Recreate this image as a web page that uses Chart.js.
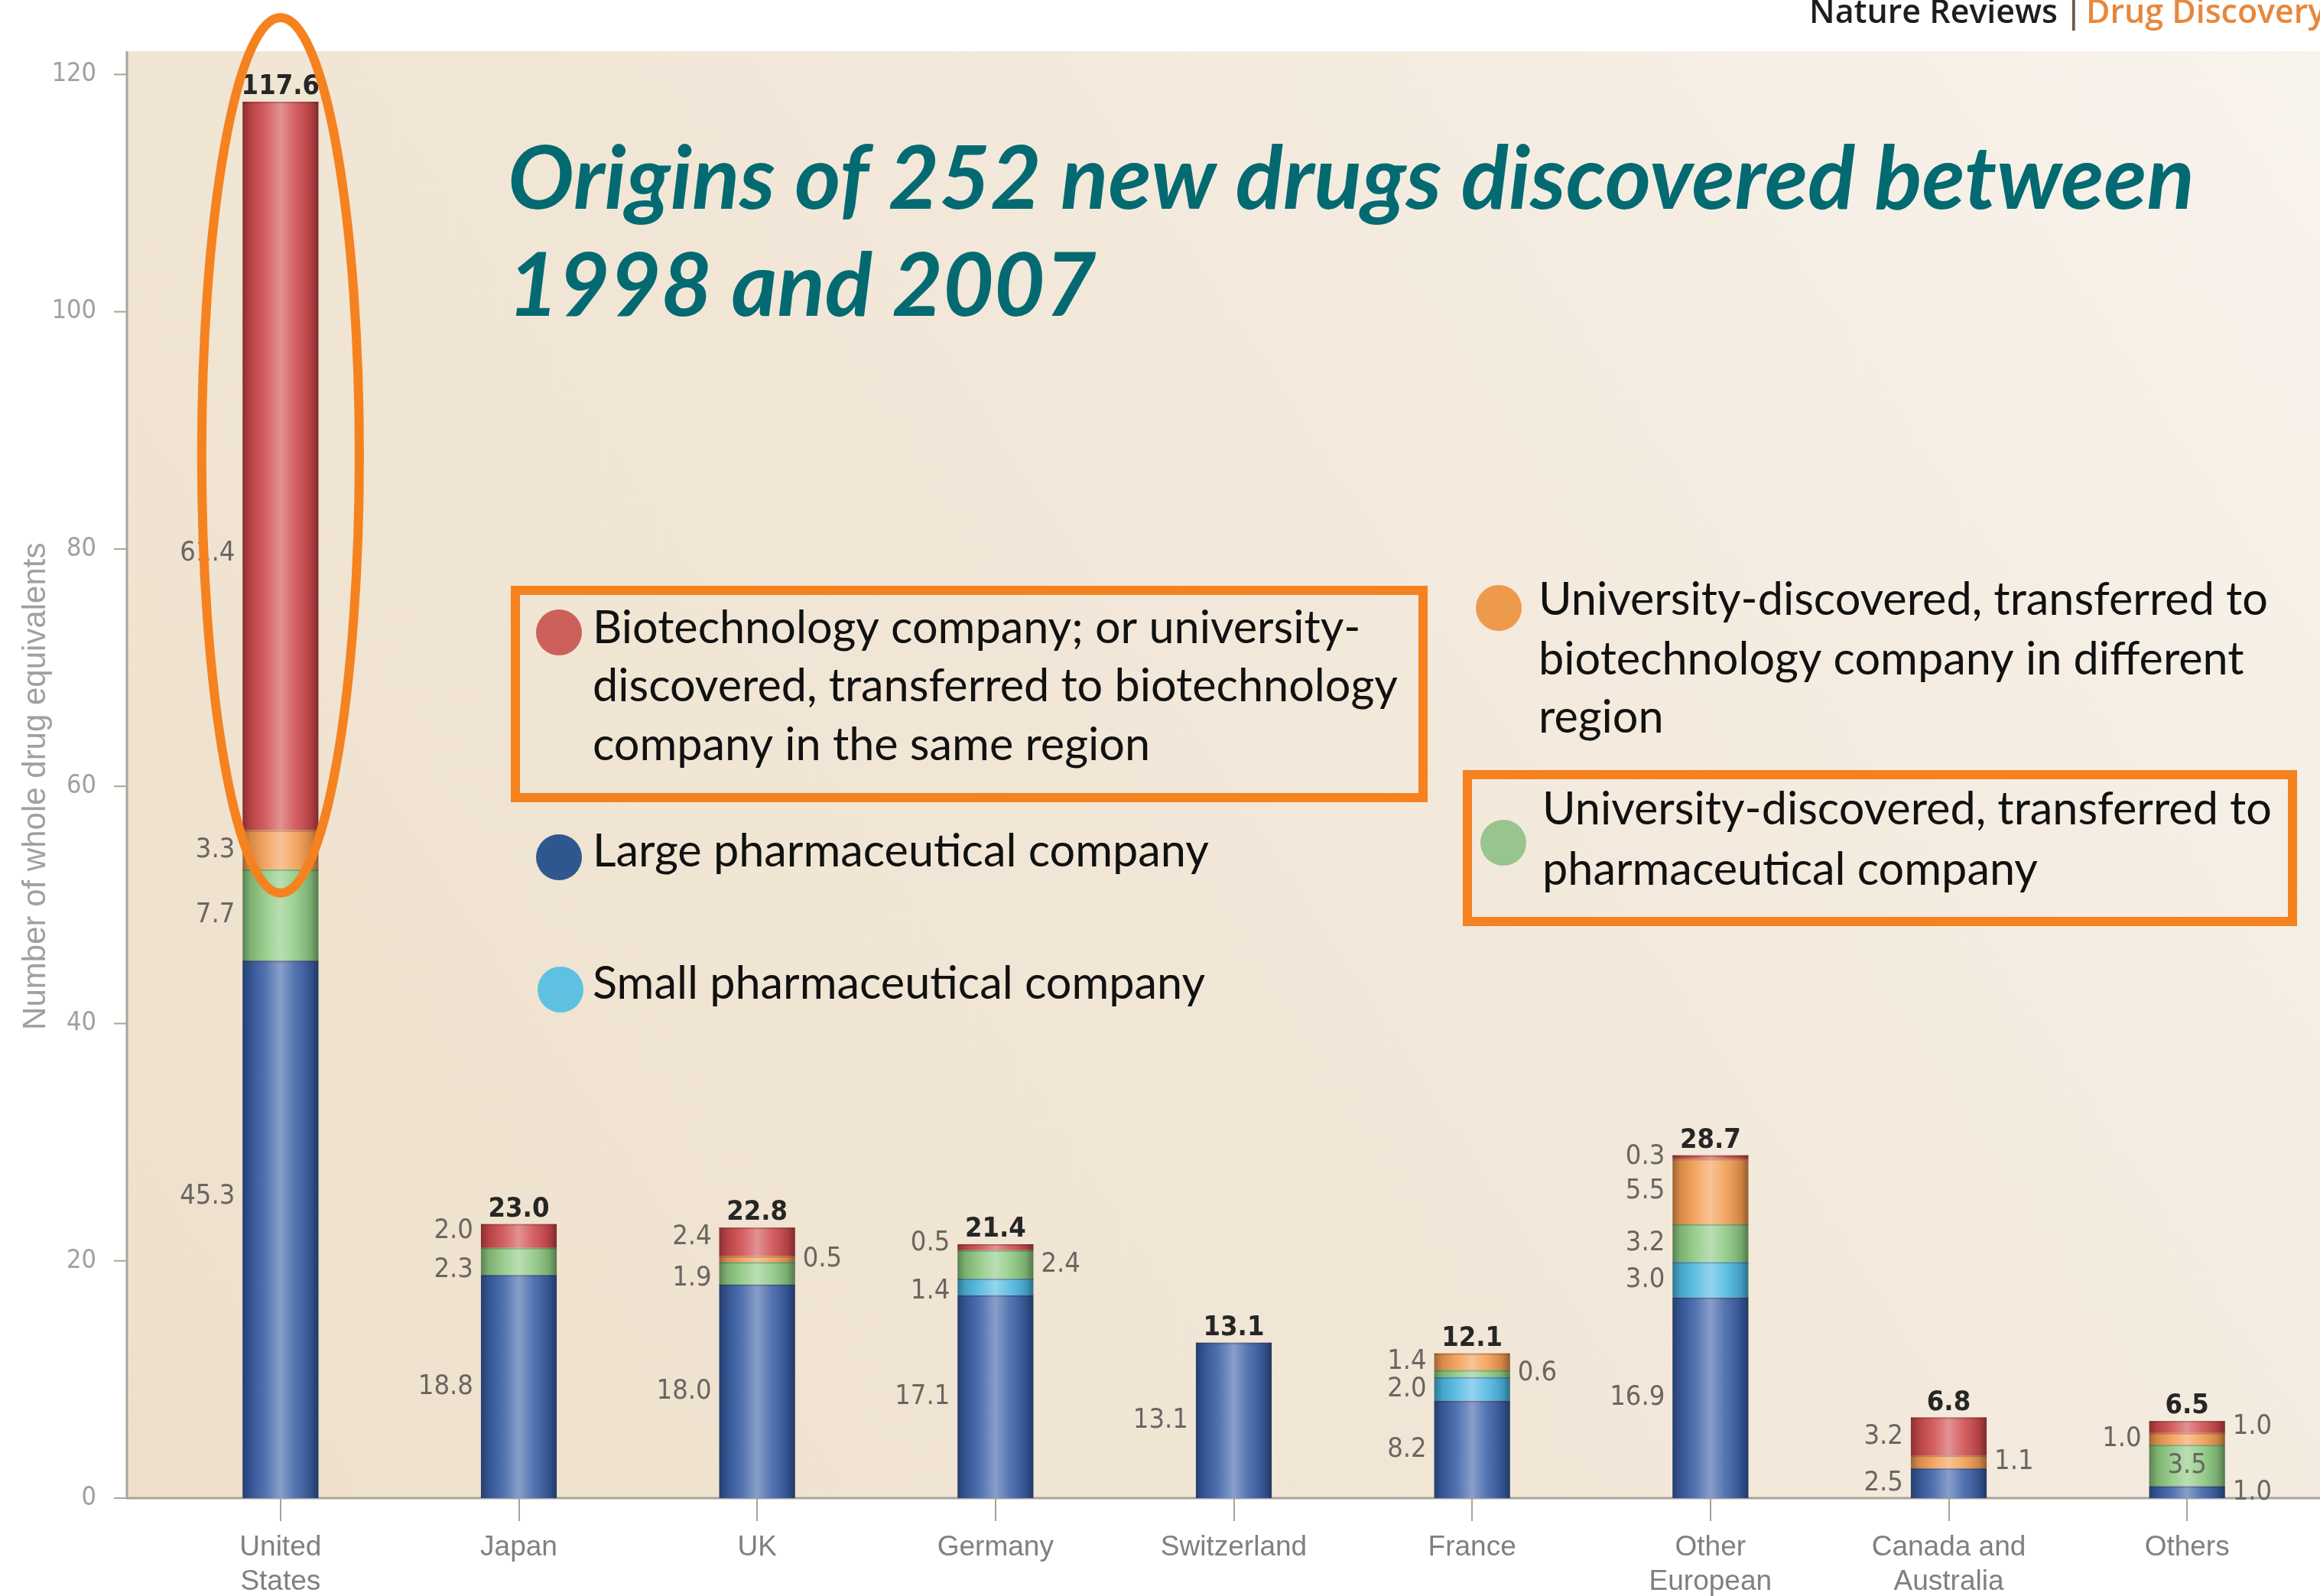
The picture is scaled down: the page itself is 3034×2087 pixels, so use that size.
<!DOCTYPE html>
<html>
<head>
<meta charset="utf-8">
<script src="https://cdn.jsdelivr.net/npm/chart.js@4.4.1/dist/chart.umd.min.js"></script>
<style>
    html, body { margin: 0; padding: 0; background: #ffffff; }
    canvas { display: block; }
</style>
</head>
<body>
<canvas id="chart" width="3034" height="2087"></canvas>
<script>
// categories
var countries = [['United', 'States'], 'Japan', 'UK', 'Germany', 'Switzerland', 'France', ['Other', 'European'], ['Canada and', 'Australia'], 'Others'];

// whole drug equivalents, stacked from the bottom up
var largePharma       = [45.3, 18.8, 18.0, 17.1, 13.1, 8.2, 16.9, 2.5, 1.0];
var smallPharma       = [0, 0, 0, 1.4, 0, 2.0, 3.0, 0, 0];
var uniToPharma       = [7.7, 2.3, 1.9, 2.4, 0, 0.6, 3.2, 0, 3.5];
var uniToBiotechOther = [3.3, 0, 0.5, 0, 0, 1.4, 5.5, 1.1, 1.0];
var biotechSameRegion = [61.4, 2.0, 2.4, 0.5, 0, 0, 0.3, 3.2, 1.0];
var totals            = [117.6, 23.0, 22.8, 21.4, 13.1, 12.1, 28.7, 6.8, 6.5];

var yTicks = [0, 20, 40, 60, 80, 100, 120];

var seriesNames = [
    'Large pharmaceutical company',
    'Small pharmaceutical company',
    'University-discovered, transferred to pharmaceutical company',
    'University-discovered, transferred to biotechnology company in different region',
    'Biotechnology company; or university-discovered, transferred to biotechnology company in the same region'
];

var barColors = ['#3a5fa6', '#4db7e2', '#8cc880', '#f29b50', '#cf4a4d'];
var dotColors = ['#2f578f', '#5ec1e1', '#98c58d', '#ee9a4c', '#cd605b'];

var narrowFont = '"Liberation Sans Narrow", "DejaVu Sans Condensed", "Liberation Sans", sans-serif';
var AXIS_X = 166;
var PLOT_TOP = 67;

// which side of the bar each segment value is written on (L, R, C)
var labelSide = [
    ['L', '', 'L', 'L', 'L'],
    ['L', '', 'L', '', 'L'],
    ['L', '', 'L', 'R', 'L'],
    ['L', 'L', 'R', '', 'L'],
    ['L', '', '', '', ''],
    ['L', 'L', 'R', 'L', ''],
    ['L', 'L', 'L', 'L', 'L'],
    ['L', '', '', 'R', 'L'],
    ['R', '', 'C', 'L', 'R']
];
// small vertical shifts (in axis units) where labels would crowd
var labelNudge = {
    '0,0': 2.8, '0,4': -7.4,
    '1,2': -0.7, '1,4': 0.45,
    '2,2': -0.45, '2,4': 0.4,
    '3,1': -0.4, '3,4': 0.35
};

var legendLayout = [
    { ds: 4, dot: [731, 827], x: 775, y: [841, 917, 994],
      lines: ['Biotechnology company; or university-', 'discovered, transferred to biotechnology', 'company in the same region'] },
    { ds: 0, dot: [731, 1121], x: 775, y: [1133], lines: ['Large pharmaceutical company'] },
    { ds: 1, dot: [733, 1294], x: 775, y: [1306], lines: ['Small pharmaceutical company'] },
    { ds: 3, dot: [1960, 795], x: 2012, y: [804, 882, 958],
      lines: ['University-discovered, transferred to', 'biotechnology company in different', 'region'] },
    { ds: 2, dot: [1966, 1102], x: 2017, y: [1078, 1157],
      lines: ['University-discovered, transferred to', 'pharmaceutical company'] }
];
var highlightBoxes = [[674, 772, 1861, 1043], [1919, 1013, 2998, 1205]];

function fitSize(ctx, text, width, prefix, family)
{
    ctx.font = prefix + ' 100px ' + family;
    return 100 * width / ctx.measureText(text).width;
}

var decor = {
    id: 'decor',

    beforeDraw: function (chart)
    {
        var ctx = chart.ctx, a = chart.chartArea;
        ctx.save();
        ctx.fillStyle = '#ffffff';
        ctx.fillRect(0, 0, chart.width, chart.height);
        var g = ctx.createLinearGradient(AXIS_X, a.bottom, chart.width, PLOT_TOP);
        g.addColorStop(0, '#eee0cb');
        g.addColorStop(0.5, '#f2e7d8');
        g.addColorStop(1, '#f8f3ec');
        ctx.fillStyle = g;
        ctx.fillRect(AXIS_X, PLOT_TOP, chart.width - AXIS_X, a.bottom - PLOT_TOP);
        ctx.restore();
    },

    beforeDatasetsDraw: function (chart)
    {
        var ctx = chart.ctx, a = chart.chartArea, y = chart.scales.y;
        ctx.save();
        ctx.strokeStyle = '#aaa49b';
        ctx.lineWidth = 3;
        ctx.beginPath();
        ctx.moveTo(AXIS_X, PLOT_TOP);
        ctx.lineTo(AXIS_X, a.bottom);
        ctx.lineTo(chart.width, a.bottom);
        ctx.stroke();
        ctx.lineWidth = 2;
        yTicks.forEach(function (v)
        {
            var py = y.getPixelForValue(v);
            ctx.beginPath();
            ctx.moveTo(AXIS_X - 17, py);
            ctx.lineTo(AXIS_X, py);
            ctx.stroke();
        });
        ctx.restore();
    },

    afterDatasetsDraw: function (chart)
    {
        var ctx = chart.ctx, yScale = chart.scales.y;
        ctx.save();

        // cylinder shading on every segment
        chart.data.datasets.forEach(function (ds, i)
        {
            chart.getDatasetMeta(i).data.forEach(function (el, j)
            {
                if (!ds.data[j]) return;
                var p = el.getProps(['x', 'y', 'base', 'width'], true);
                var l = p.x - p.width / 2;
                var g = ctx.createLinearGradient(l, 0, l + p.width, 0);
                g.addColorStop(0, 'rgba(0,0,0,0.35)');
                g.addColorStop(0.1, 'rgba(0,0,0,0.12)');
                g.addColorStop(0.3, 'rgba(255,255,255,0.12)');
                g.addColorStop(0.5, 'rgba(255,255,255,0.4)');
                g.addColorStop(0.7, 'rgba(255,255,255,0.12)');
                g.addColorStop(0.9, 'rgba(0,0,0,0.15)');
                g.addColorStop(1, 'rgba(0,0,0,0.4)');
                ctx.fillStyle = g;
                ctx.fillRect(l, p.y, p.width, p.base - p.y);
                ctx.fillStyle = 'rgba(60,30,20,0.25)';
                ctx.fillRect(l, p.y, p.width, 2);
            });
        });

        // segment values
        ctx.font = '36px ' + narrowFont;
        ctx.fillStyle = '#6a6662';
        ctx.textBaseline = 'middle';
        chart.data.datasets.forEach(function (ds, i)
        {
            chart.getDatasetMeta(i).data.forEach(function (el, j)
            {
                var side = labelSide[j][i];
                if (!ds.data[j] || !side) return;
                var p = el.getProps(['x', 'y', 'base', 'width'], true);
                var ym = (p.y + p.base) / 2;
                var nudge = labelNudge[j + ',' + i];
                if (nudge) ym = yScale.getPixelForValue(yScale.getValueForPixel(ym) + nudge);
                var txt = ds.data[j].toFixed(1);
                if (side === 'L') { ctx.textAlign = 'right'; ctx.fillText(txt, p.x - p.width / 2 - 10, ym); }
                else if (side === 'R') { ctx.textAlign = 'left'; ctx.fillText(txt, p.x + p.width / 2 + 10, ym); }
                else { ctx.textAlign = 'center'; ctx.fillText(txt, p.x, ym); }
            });
        });

        // totals
        ctx.font = 'bold 36px ' + narrowFont;
        ctx.fillStyle = '#262626';
        ctx.textAlign = 'center';
        ctx.textBaseline = 'alphabetic';
        totals.forEach(function (t, j)
        {
            var top = Infinity, cx = 0;
            chart.data.datasets.forEach(function (ds, i)
            {
                if (!ds.data[j]) return;
                var el = chart.getDatasetMeta(i).data[j];
                top = Math.min(top, el.y);
                cx = el.x;
            });
            ctx.fillText(t.toFixed(1), cx, top - 10);
        });
        ctx.restore();
    },

    afterDraw: function (chart)
    {
        var ctx = chart.ctx, xs = chart.scales.x, ys = chart.scales.y;
        ctx.save();

        // heading
        var titleFamily = 'Lato, "Open Sans", sans-serif';
        var ts = fitSize(ctx, 'Origins of 252 new drugs discovered between', 2206, 'italic bold', titleFamily);
        ctx.font = 'italic bold ' + ts + 'px ' + titleFamily;
        ctx.fillStyle = '#036a72';
        ctx.textAlign = 'left';
        ctx.textBaseline = 'alphabetic';
        ctx.fillText('Origins of 252 new drugs discovered between', 664, 273);
        ctx.fillText('1998 and 2007', 664, 413);

        // legend
        var legFamily = 'Lato, "Open Sans", sans-serif';
        var ls = fitSize(ctx, 'Large pharmaceutical company', 806, 'normal', legFamily);
        legendLayout.forEach(function (item)
        {
            ctx.fillStyle = dotColors[item.ds];
            ctx.beginPath();
            ctx.arc(item.dot[0], item.dot[1], 30, 0, Math.PI * 2);
            ctx.fill();
            ctx.font = ls + 'px ' + legFamily;
            ctx.fillStyle = '#111111';
            item.lines.forEach(function (line, k)
            {
                ctx.fillText(line, item.x, item.y[k]);
            });
        });
        ctx.strokeStyle = '#f5821f';
        ctx.lineWidth = 12;
        highlightBoxes.forEach(function (b)
        {
            ctx.strokeRect(b[0], b[1], b[2] - b[0], b[3] - b[1]);
        });

        // ring around the United States bar
        var top = ys.getPixelForValue(124.8), bottom = ys.getPixelForValue(51);
        var bw = chart.getDatasetMeta(0).data[0].width;
        ctx.beginPath();
        ctx.ellipse(xs.getPixelForValue(0), (top + bottom) / 2, bw * 1.04, (bottom - top) / 2, 0, 0, Math.PI * 2);
        ctx.stroke();

        // journal tag
        var hs = fitSize(ctx, 'Nature Reviews', 325, '600', '"Open Sans", sans-serif');
        ctx.font = '600 ' + hs + 'px "Open Sans", sans-serif';
        ctx.fillStyle = '#1e1e1e';
        ctx.fillText('Nature Reviews', 2366, 30);
        ctx.fillStyle = '#6b5a4a';
        ctx.fillText('|', 2700, 30);
        ctx.fillStyle = '#e8873c';
        ctx.fillText('Drug Discovery', 2728, 30);
        ctx.restore();
    }
};

var series = [largePharma, smallPharma, uniToPharma, uniToBiotechOther, biotechSameRegion];

var ctx = document.getElementById('chart').getContext('2d');
var chart = new Chart(ctx, {
    type: 'bar',
    data: {
        labels: countries,
        datasets: series.map(function (values, i)
        {
            return {
                label: seriesNames[i],
                data: values,
                backgroundColor: barColors[i],
                borderWidth: 0,
                categoryPercentage: 1,
                barPercentage: 0.318
            };
        })
    },
    options: {
        responsive: false,
        animation: false,
        devicePixelRatio: 1,
        layout: { padding: { top: 89, right: 18, left: 0, bottom: 0 } },
        plugins: {
            legend: { display: false },
            tooltip: { enabled: false }
        },
        scales: {
            x: {
                stacked: true,
                offset: true,
                border: { display: false },
                grid: { display: true, drawOnChartArea: false, drawTicks: true, tickLength: 30, offset: false, color: '#a8a39c', lineWidth: 2 },
                ticks: { padding: 13, color: '#808080', font: { family: '"Liberation Sans", sans-serif', size: 37 } },
                afterFit: function (s) { s.height = 128; }
            },
            y: {
                stacked: true,
                min: 0,
                max: 120,
                border: { display: false },
                grid: { display: false },
                ticks: { padding: 77, color: '#a0a0a0', font: { family: narrowFont, size: 34 } },
                afterBuildTicks: function (s) { s.ticks = yTicks.map(function (v) { return { value: v }; }); },
                title: {
                    display: true,
                    text: 'Number of whole drug equivalents',
                    color: '#a0a0a0',
                    font: { family: '"Liberation Sans", sans-serif', size: 42 },
                    padding: { top: 22, bottom: 0 }
                },
                afterFit: function (s) { s.width = 211; }
            }
        }
    },
    plugins: [decor]
});
</script>
</body>
</html>
